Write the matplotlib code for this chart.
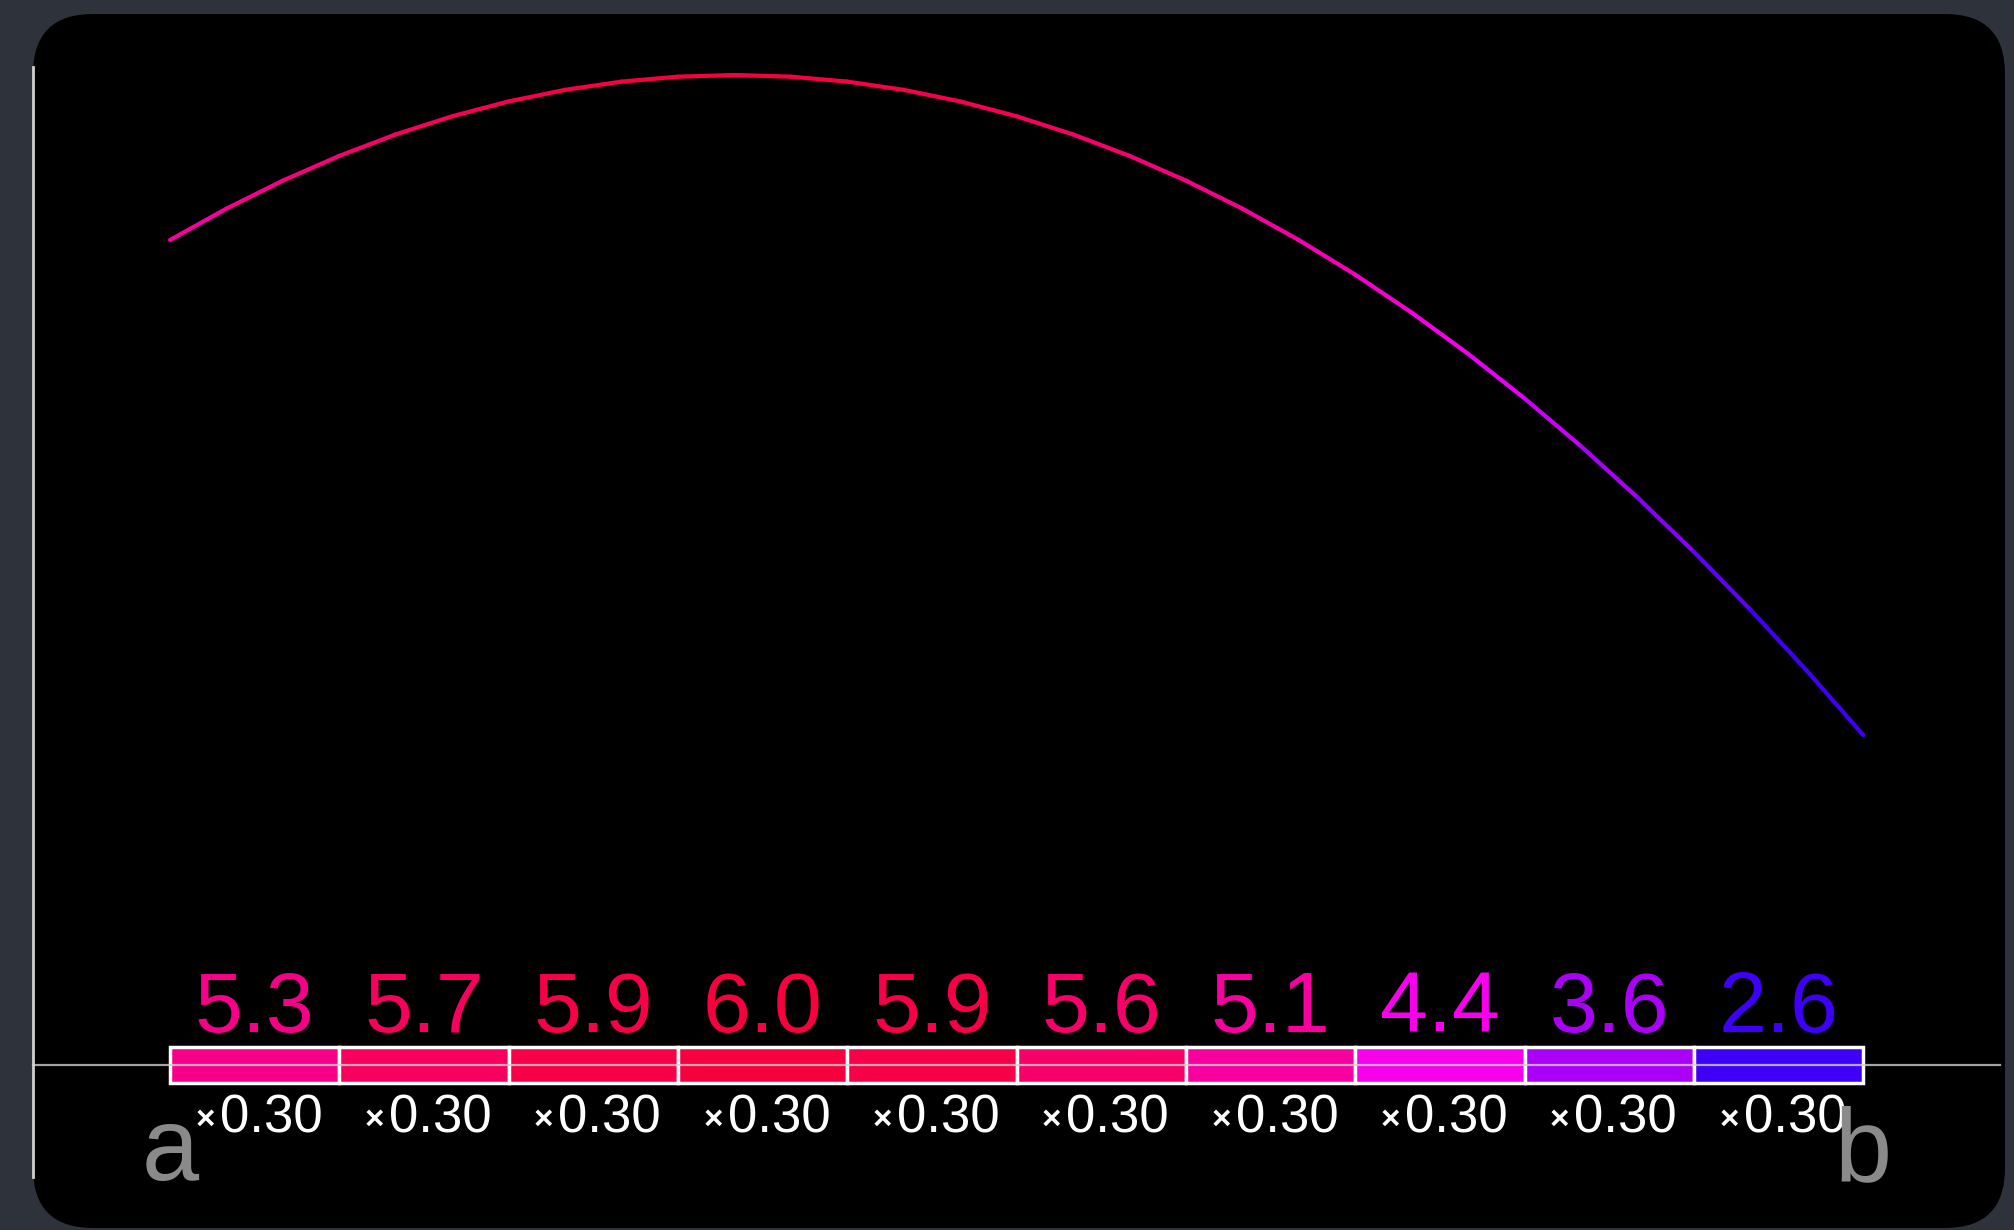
import numpy as np
import matplotlib
matplotlib.use("Agg")
import matplotlib.pyplot as plt
from matplotlib.patches import FancyBboxPatch, Rectangle
from matplotlib.collections import LineCollection
from matplotlib.colors import Normalize, LinearSegmentedColormap, hsv_to_rgb

# curve, x from a=0 to b=3
curve_x = [0.0, 0.1, 0.2, 0.3, 0.4, 0.5, 0.6, 0.7, 0.8, 0.9, 1.0,
           1.1, 1.2, 1.3, 1.4, 1.5, 1.6, 1.7, 1.8, 1.9, 2.0,
           2.1, 2.2, 2.3, 2.4, 2.5, 2.6, 2.7, 2.8, 2.9, 3.0]
curve_y = [5.00, 5.19, 5.36, 5.51, 5.64, 5.75, 5.84, 5.91, 5.96, 5.99, 6.00,
           5.99, 5.96, 5.91, 5.84, 5.75, 5.64, 5.51, 5.36, 5.19, 5.00,
           4.79, 4.56, 4.31, 4.04, 3.75, 3.44, 3.11, 2.76, 2.39, 2.00]

# strip of sample values (midpoints), each of width dx
seg_left = [0.0, 0.3, 0.6, 0.9, 1.2, 1.5, 1.8, 2.1, 2.4, 2.7]
seg_values = [5.3, 5.7, 5.9, 6.0, 5.9, 5.6, 5.1, 4.4, 3.6, 2.6]
seg_width = 0.30
a_label, b_label = "a", "b"

W, H, DPI = 2014, 1230, 100
fig = plt.figure(figsize=(W / DPI, H / DPI), dpi=DPI)
fig.patch.set_facecolor("#2e323b")

ax = fig.add_axes([0, 0, 1, 1])
ax.set_facecolor("none")
ax.axis("off")
# pixel mapping: x=0 at 170px, 564.4 px per unit; y=0 at 1065px, 165 px per unit
ax.set_xlim(-170 / 564.4, (W - 170) / 564.4)
ax.set_ylim(-(H - 1065) / 165, 1065 / 165)

# black rounded panel (in inches)
panel = FancyBboxPatch((0.33, 0.02), 19.72, 12.14,
                       boxstyle="round,pad=0,rounding_size=0.6",
                       transform=fig.dpi_scale_trans,
                       facecolor="black", edgecolor="none", zorder=0)
ax.add_patch(panel)

# colour by value: hue 255 (blue) -> 345 (red)
hues = np.linspace(255, 345, 64) / 360.0
cols = hsv_to_rgb(np.column_stack([hues, np.ones(64), np.full(64, 0.97)]))
cmap = LinearSegmentedColormap.from_list("bluered", cols)
norm = Normalize(vmin=min(seg_values), vmax=max(seg_values))

# axes lines
ax.plot([-0.243, 3.242], [0, 0], color="#d0d0d0", lw=1.6, alpha=0.8, zorder=5)
ax.plot([-0.243, -0.243], [-0.68, 6.05], color="#d0d0d0", lw=2, zorder=5)

# gradient curve
pts = np.column_stack([curve_x, curve_y])
segs = np.stack([pts[:-1], pts[1:]], axis=1)
mids = (np.array(curve_y[:-1]) + np.array(curve_y[1:])) / 2
lc = LineCollection(segs, colors=cmap(norm(mids)), linewidths=3,
                    capstyle="round", zorder=3)
ax.add_collection(lc)

fnt = "Liberation Sans"
for left, v in zip(seg_left, seg_values):
    c = cmap(norm(v))
    ax.add_patch(Rectangle((left, -0.112), seg_width, 0.224, facecolor=c,
                           edgecolor="white", lw=2.5, zorder=4))
    cx = left + seg_width / 2
    ax.text(cx, 0.2, f"{v:.1f}", color=c, fontsize=62, family=fnt,
            ha="center", va="baseline", zorder=6)
    # small multiply sign, then the width
    ax.text(cx - 0.088, -0.333, "\u00d7", color="white", fontsize=24,
            fontweight="bold", family=fnt, ha="center", va="center", zorder=6)
    ax.text(cx - 0.062, -0.412, f"{seg_width:.2f}", color="white",
            fontsize=38, family=fnt, ha="left", va="baseline", zorder=6)

ax.text(seg_left[0], -0.697, a_label, color="#8a8a8a", fontsize=74,
        family=fnt, ha="center", va="baseline", zorder=6)
ax.text(seg_left[-1] + seg_width, -0.697, b_label, color="#8a8a8a",
        fontsize=74, family=fnt, ha="center", va="baseline", zorder=6)

fig.savefig("out.png", dpi=DPI, facecolor=fig.get_facecolor())
